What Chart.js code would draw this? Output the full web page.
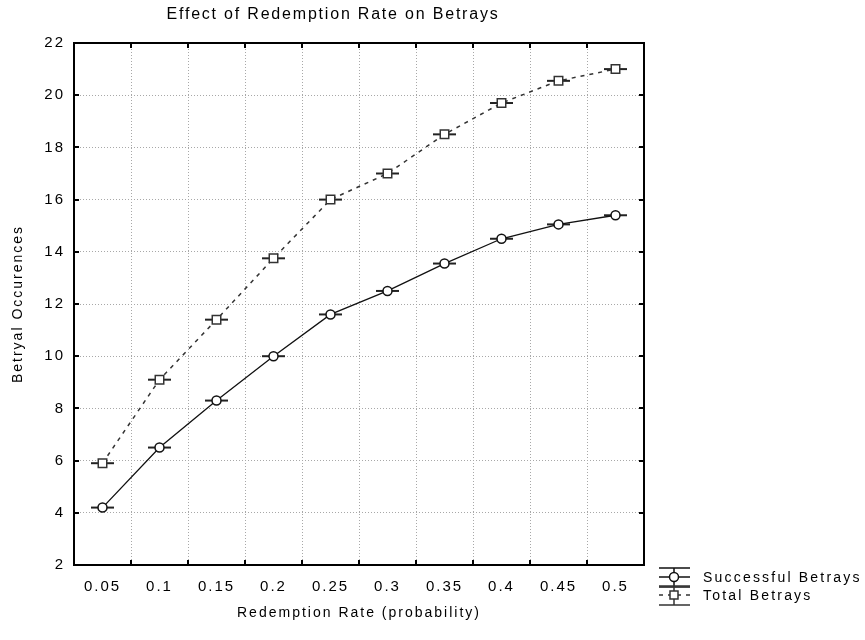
<!DOCTYPE html>
<html>
<head>
<meta charset="utf-8">
<title>Effect of Redemption Rate on Betrays</title>
<script src="https://cdn.jsdelivr.net/npm/chart.js@4/dist/chart.umd.min.js"></script>
<style>
    body { margin: 0; background: #fff; }
    canvas { display: block; }
</style>
</head>
<body>
<canvas id="betrayChart" width="865" height="640"></canvas>
<script>
const rates = ['0.05', '0.1', '0.15', '0.2', '0.25', '0.3', '0.35', '0.4', '0.45', '0.5'];
const successfulBetrays = [4.2, 6.5, 8.3, 10.0, 11.6, 12.5, 13.55, 14.5, 15.05, 15.4];
const totalBetrays = [5.9, 9.1, 11.4, 13.75, 16.0, 17.0, 18.5, 19.7, 20.55, 21.0];
const yTicks = [2, 4, 6, 8, 10, 12, 14, 16, 18, 20, 22];

const chartTitle = 'Effect of Redemption Rate on Betrays';
const xTitle = 'Redemption Rate (probability)';
const yTitle = 'Betryal Occurences';

const fontFamily = '"Liberation Sans", Arial, sans-serif';
const textColor = '#000';
const ctx = document.getElementById('betrayChart').getContext('2d');

// wide, spaced-out lettering for all text the library draws
const spacing = {
    id: 'spacing',
    beforeLayout(chart) { chart.ctx.letterSpacing = '2px'; },
    beforeDraw(chart) { chart.ctx.letterSpacing = '2px'; }
};

// short horizontal bars through each marker
const errorBars = {
    id: 'errorBars',
    beforeDatasetsDraw(chart) {
        const c = chart.ctx;
        c.save();
        c.strokeStyle = '#222';
        c.lineWidth = 2;
        chart.data.datasets.forEach((ds, i) => {
            chart.getDatasetMeta(i).data.forEach(pt => {
                c.beginPath();
                c.moveTo(pt.x - 11.5, pt.y);
                c.lineTo(pt.x + 11.5, pt.y);
                c.stroke();
            });
        });
        c.restore();
    }
};

// box round the plot with inward tick marks
const frame = {
    id: 'frame',
    afterDatasetsDraw(chart) {
        const c = chart.ctx;
        const a = chart.chartArea;
        const xs = chart.scales.x;
        const ys = chart.scales.y;
        c.save();
        c.strokeStyle = '#000';
        c.lineWidth = 2;
        c.strokeRect(a.left, a.top, a.right - a.left, a.bottom - a.top);
        c.beginPath();
        for (let i = 1; i < rates.length; i++) {
            const x = Math.round((xs.getPixelForValue(i - 1) + xs.getPixelForValue(i)) / 2);
            c.moveTo(x, a.bottom); c.lineTo(x, a.bottom - 5);
            c.moveTo(x, a.top); c.lineTo(x, a.top + 5);
        }
        yTicks.forEach(v => {
            const y = Math.round(ys.getPixelForValue(v));
            c.moveTo(a.left, y); c.lineTo(a.left + 5, y);
            c.moveTo(a.right, y); c.lineTo(a.right - 5, y);
        });
        c.stroke();
        c.restore();
    }
};

// title over the plot and the legend below the right edge
const labels = {
    id: 'labels',
    afterDraw(chart) {
        const c = chart.ctx;
        c.save();
        c.fillStyle = textColor;
        c.textBaseline = 'alphabetic';
        c.font = '16px ' + fontFamily;
        c.letterSpacing = '1.8px';
        c.textAlign = 'center';
        c.fillText(chartTitle, 333, 18.5);

        c.font = '14px ' + fontFamily;
        c.letterSpacing = '2.2px';
        c.textAlign = 'left';
        c.textBaseline = 'middle';
        const left = 659, right = 690, mid = 674;
        chart.data.datasets.forEach((ds, i) => {
            const y = 577 + i * 18;
            c.strokeStyle = ds.borderColor;
            c.lineWidth = 1.5;
            c.setLineDash([]);
            c.beginPath();
            c.moveTo(left, y - 9); c.lineTo(right, y - 9);
            c.moveTo(left, y + 10); c.lineTo(right, y + 10);
            c.moveTo(mid, y - 9); c.lineTo(mid, y + 10);
            c.stroke();
            c.setLineDash(ds.borderDash || []);
            c.beginPath();
            c.moveTo(left, y); c.lineTo(right, y);
            c.stroke();
            c.setLineDash([]);
            c.fillStyle = '#fff';
            c.beginPath();
            if (ds.pointStyle === 'rect') {
                c.rect(mid - 4, y - 4, 8, 8);
            } else {
                c.arc(mid, y, 4.5, 0, Math.PI * 2);
            }
            c.fill();
            c.stroke();
            c.fillStyle = textColor;
            c.fillText(ds.label, 703, y + 1);
        });
        c.restore();
    }
};

new Chart(ctx, {
    type: 'line',
    data: {
        labels: rates,
        datasets: [{
            label: 'Successful Betrays',
            data: successfulBetrays,
            borderColor: '#111',
            borderWidth: 1.3,
            pointStyle: 'circle',
            pointRadius: 4.5,
            pointBorderWidth: 1.5,
            pointBackgroundColor: '#fff',
            pointBorderColor: '#111',
            tension: 0
        }, {
            label: 'Total Betrays',
            data: totalBetrays,
            borderColor: '#333',
            borderWidth: 1.5,
            borderDash: [4, 5],
            pointStyle: 'rect',
            pointRadius: 6,
            pointBorderWidth: 1.5,
            pointBackgroundColor: '#fff',
            pointBorderColor: '#333',
            tension: 0
        }]
    },
    options: {
        responsive: false,
        animation: false,
        events: [],
        layout: { padding: { top: 43, right: 221, bottom: 0, left: 0 } },
        plugins: {
            legend: { display: false },
            title: { display: false },
            tooltip: { enabled: false }
        },
        scales: {
            x: {
                type: 'category',
                offset: true,
                grid: { offset: true, color: '#a8a8a8', lineWidth: 1, drawTicks: false },
                border: { display: false, dash: [1, 2] },
                ticks: { color: textColor, padding: 13, maxRotation: 0, font: { family: fontFamily, size: 15 } },
                title: {
                    display: true,
                    text: xTitle,
                    color: textColor,
                    font: { family: fontFamily, size: 14 },
                    padding: { top: 0, bottom: 18 }
                },
                afterFit(scale) {
                    scale.height = 75;
                    scale.paddingLeft = 0;
                    scale.paddingRight = 0;
                }
            },
            y: {
                min: 2,
                max: 22,
                grid: { color: '#a8a8a8', lineWidth: 1, drawTicks: false },
                border: { display: false, dash: [1, 2] },
                ticks: { stepSize: 2, color: textColor, padding: 9, font: { family: fontFamily, size: 15 } },
                title: {
                    display: true,
                    text: yTitle,
                    color: textColor,
                    font: { family: fontFamily, size: 14 },
                    padding: { top: 10, bottom: 0 }
                },
                afterFit(scale) {
                    scale.width = 74;
                    scale.paddingTop = 0;
                    scale.paddingBottom = 0;
                }
            }
        }
    },
    plugins: [spacing, errorBars, frame, labels]
});
</script>
</body>
</html>
